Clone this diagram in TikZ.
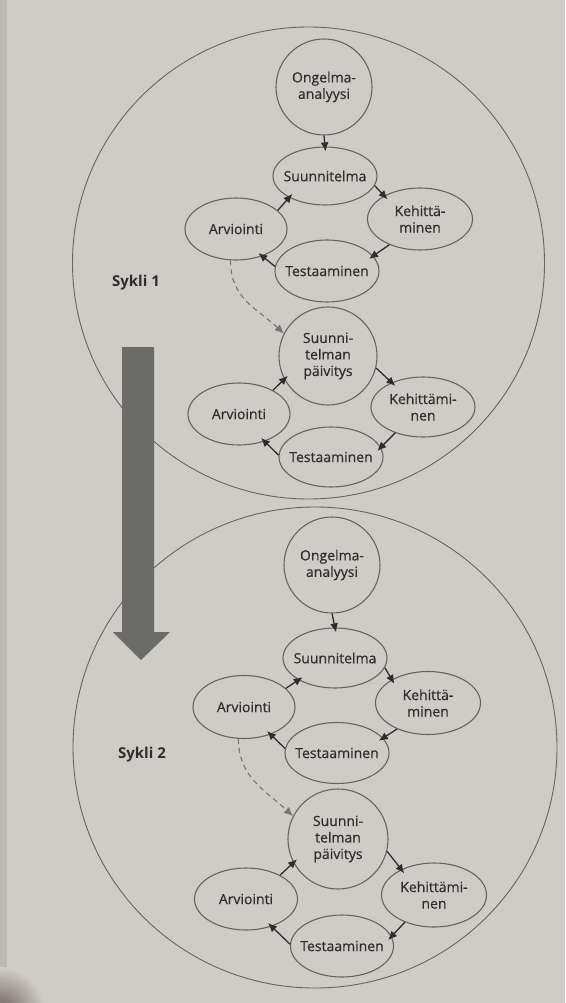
\documentclass[tikz,border=0pt]{standalone}
\usepackage{fontspec}
\setmainfont{Open Sans}
\newfontface\stagefont{Open Sans}[FakeBold=0.5]
\usetikzlibrary{arrows.meta,shapes.geometric}

\definecolor{paper}{HTML}{CFCCC8}
\definecolor{paperedge}{HTML}{BDBAB6}
\definecolor{ink}{HTML}{2E2E2E}
\definecolor{outline}{HTML}{646462}
\definecolor{bigarrow}{HTML}{6B6C68}
\definecolor{shadow}{HTML}{6E5E58}

% stage shapes are fixed in size; their names sit on top as centred labels
\tikzset{
  ring/.style={draw=outline, line width=0.9pt, inner sep=0pt},
  stage/.style 2 args={ellipse, draw=outline, line width=1.1pt, inner sep=0pt,
    minimum width=#1, minimum height=#2},
  roundstage/.style={circle, draw=outline, line width=1.1pt, inner sep=0pt,
    minimum size=#1},
  every label/.style={text=ink, align=center, inner sep=0pt,
    font=\stagefont\fontsize{14}{16.5}\selectfont},
  flow/.style={draw=ink, line width=1.3pt,
    -{Latex[length=9pt,width=8pt]}, shorten >=-5pt},
  feedback/.style={draw=outline!90, line width=1.1pt,
    dash pattern=on 5pt off 4pt,
    -{Latex[length=9pt,width=8pt]}},
  cyclelabel/.style={text=ink, font=\bfseries\fontsize{15}{18}\selectfont}
}

\begin{document}
\begin{tikzpicture}[x=1pt,y=-1pt]
  % sheet of paper
  \fill[paper] (0,0) rectangle (565,1003);
  \fill[paperedge] (0,0) rectangle (7,1003);
  \begin{scope}
    \clip (0,950) rectangle (80,1003);
    \shade[inner color=shadow, outer color=paper] (0,1012) circle (45pt);
  \end{scope}
  \useasboundingbox (0,0) rectangle (565,1003);

  % the two cycles
  \node[ring, circle, minimum size=472pt] (ring1) at (308.5,263) {};
  \node[ring, ellipse, minimum width=484pt, minimum height=481pt] (ring2) at (315,747.5) {};

  \node[cyclelabel] (sykli1) at (136,283) {Sykli 1};
  \node[cyclelabel] (sykli2) at (142,755) {Sykli 2};

  % broad arrow from the first cycle to the second
  \fill[bigarrow] (122,347) -- (154,347) -- (154,632) -- (170,632)
        -- (141,660) -- (113,632) -- (122,632) -- cycle;
  \coordinate (bigarrowtip) at (141,660);

  % ---------- cycle 1 ----------
  \node[roundstage=96pt, label=center:{Ongelma-\\analyysi}] (on1) at (324,87) {};
  \node[stage={104pt}{58pt}, label=center:Suunnitelma] (su1) at (325,176) {};
  \node[stage={105pt}{62pt}, label=center:{Kehittä-\\minen}] (ke1) at (420,219) {};
  \node[stage={102pt}{62pt}, label=center:Arviointi] (ar1) at (236,229) {};
  \node[stage={104pt}{62pt}, label=center:Testaaminen] (te1) at (327,271) {};
  \node[roundstage=98pt, label=center:{Suunni-\\telman\\päivitys}] (pa1) at (328,356) {};
  \node[stage={104pt}{60pt}, label=center:{Kehittämi-\\nen}] (kb1) at (423,407) {};
  \node[stage={102pt}{62pt}, label=center:Arviointi] (ab1) at (239,414) {};
  \node[stage={104pt}{60pt}, label=center:Testaaminen] (tb1) at (331,457) {};

  \draw[flow] (on1.south) -- (su1.north);
  \draw[flow] (su1.-11) -- (ke1.147);
  \draw[flow] (ke1.-140) -- (te1.18);
  \draw[flow] (te1.175) -- (ar1.-46);
  \draw[flow] (ar1.24) -- (su1.-149);
  \draw[feedback] (ar1.-100) .. controls +(0,38) and +(-28,-26) .. (pa1.153);
  \draw[flow] (pa1.-14) -- (kb1.142);
  \draw[flow] (kb1.-137) -- (tb1.11);
  \draw[flow] (tb1.178) -- (ab1.-47);
  \draw[flow] (ab1.35) -- (pa1.-152);

  % ---------- cycle 2 ----------
  \node[roundstage=96pt, label=center:{Ongelma-\\analyysi}] (on2) at (332,565) {};
  \node[stage={104pt}{60pt}, label=center:Suunnitelma] (su2) at (335,658) {};
  \node[stage={105pt}{63pt}, label=center:{Kehittä-\\minen}] (ke2) at (428,703) {};
  \node[stage={102pt}{63pt}, label=center:Arviointi] (ar2) at (244,707) {};
  \node[stage={104pt}{61pt}, label=center:Testaaminen] (te2) at (337,753) {};
  \node[roundstage=100pt, label=center:{Suunni-\\telman\\päivitys}] (pa2) at (338,839) {};
  \node[stage={105pt}{64pt}, label=center:{Kehittämi-\\nen}] (kb2) at (434,895) {};
  \node[stage={103pt}{62pt}, label=center:Arviointi] (ab2) at (246,899) {};
  \node[stage={103pt}{62pt}, label=center:Testaaminen] (tb2) at (342,946) {};

  \draw[flow] (on2.south) -- (su2.north);
  \draw[flow] (su2.-11) -- (ke2.147);
  \draw[flow] (ke2.-140) -- (te2.18);
  \draw[flow] (te2.175) -- (ar2.-46);
  \draw[flow] (ar2.24) -- (su2.-149);
  \draw[feedback] (ar2.-100) .. controls +(0,38) and +(-28,-26) .. (pa2.153);
  \draw[flow] (pa2.-14) -- (kb2.142);
  \draw[flow] (kb2.-137) -- (tb2.11);
  \draw[flow] (tb2.178) -- (ab2.-47);
  \draw[flow] (ab2.35) -- (pa2.-152);
\end{tikzpicture}
\end{document}
